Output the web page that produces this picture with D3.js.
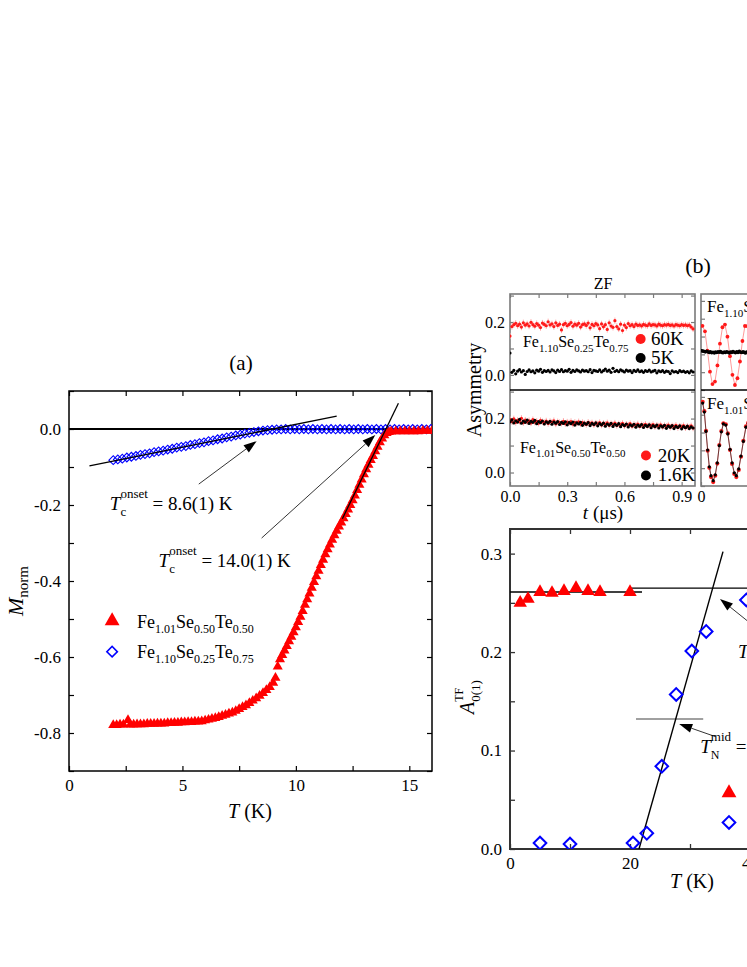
<!DOCTYPE html>
<html><head><meta charset="utf-8">
<script src="https://cdn.jsdelivr.net/npm/d3@7"></script>
<style>
body{margin:0;background:#fff}
svg{display:block}
text{white-space:pre}
</style>
</head><body>
<svg id="c" width="747" height="967"></svg>
<script>
const FONT='"Liberation Serif","Times New Roman",Times,serif';

// ---------------- Panel (a) data ----------------
// Fe1.01Se0.50Te0.50 : [T (K), M_norm]
const aFeSe50=[[1.95,-0.779],[2.10,-0.779],[2.25,-0.778],[2.40,-0.778],[2.60,-0.766],[2.70,-0.778],[2.85,-0.778],[3.00,-0.777],[3.15,-0.777],[3.30,-0.777],
[3.45,-0.776],[3.60,-0.776],[3.75,-0.776],[3.90,-0.775],[4.05,-0.775],[4.20,-0.775],[4.35,-0.774],[4.50,-0.774],[4.65,-0.773],[4.80,-0.773],
[4.95,-0.772],[5.10,-0.772],[5.25,-0.771],[5.40,-0.771],[5.55,-0.770],[5.70,-0.770],[5.85,-0.769],[6.00,-0.767],[6.15,-0.765],[6.30,-0.763],
[6.45,-0.761],[6.60,-0.758],[6.75,-0.755],[6.90,-0.752],[7.05,-0.749],[7.20,-0.746],[7.35,-0.742],[7.50,-0.737],[7.65,-0.732],[7.80,-0.727],
[7.95,-0.721],[8.10,-0.715],[8.25,-0.709],[8.40,-0.702],[8.55,-0.695],[8.70,-0.687],[8.85,-0.679],[9.00,-0.668],[9.10,-0.655],[9.20,-0.625],
[9.30,-0.606],[9.40,-0.595],[9.50,-0.583],[9.60,-0.571],[9.70,-0.559],[9.80,-0.547],[9.90,-0.535],[10.0,-0.522],[10.1,-0.508],[10.2,-0.494],
[10.3,-0.479],[10.4,-0.463],[10.5,-0.448],[10.6,-0.433],[10.7,-0.418],[10.8,-0.403],[10.9,-0.388],[11.0,-0.373],[11.1,-0.358],[11.2,-0.344],
[11.3,-0.330],[11.4,-0.317],[11.5,-0.304],[11.6,-0.292],[11.7,-0.280],[11.8,-0.268],[11.9,-0.257],[12.0,-0.246],[12.1,-0.235],[12.2,-0.224],
[12.3,-0.212],[12.4,-0.200],[12.5,-0.188],[12.6,-0.175],[12.7,-0.161],[12.8,-0.147],[12.9,-0.133],[13.0,-0.119],[13.1,-0.106],[13.2,-0.094],
[13.3,-0.082],[13.4,-0.071],[13.5,-0.059],[13.6,-0.047],[13.7,-0.035],[13.8,-0.025],[13.9,-0.017],[14.0,-0.011],[14.1,-0.008],[14.2,-0.007],
[14.4,-0.006],[14.6,-0.006],[14.8,-0.006],[15.0,-0.006],[15.2,-0.006],[15.4,-0.006],[15.6,-0.005],[15.8,-0.005],[16.0,-0.005]];
// Fe1.10Se0.25Te0.75 : [T (K), M_norm]
const aFeSe25=[[1.95,-0.082],[2.15,-0.080],[2.35,-0.078],[2.55,-0.075],[2.75,-0.073],[2.95,-0.071],[3.15,-0.068],[3.35,-0.066],[3.55,-0.064],[3.75,-0.061],
[3.95,-0.059],[4.15,-0.057],[4.35,-0.054],[4.55,-0.052],[4.75,-0.049],[4.95,-0.047],[5.15,-0.045],[5.35,-0.042],[5.55,-0.040],[5.75,-0.037],
[5.95,-0.035],[6.15,-0.032],[6.35,-0.030],[6.55,-0.027],[6.75,-0.025],[6.95,-0.022],[7.15,-0.020],[7.35,-0.017],[7.55,-0.015],[7.75,-0.012],
[7.95,-0.010],[8.15,-0.008],[8.35,-0.006],[8.55,-0.004],[8.75,-0.003],[8.95,-0.002],[9.15,-0.001],[9.35,-0.001],[9.55,0.000],[9.75,-0.001],
[9.95,0.000],[10.15,-0.001],[10.35,0.000],[10.55,-0.001],[10.75,0.000],[10.95,-0.001],[11.15,0.000],[11.35,-0.001],[11.55,0.000],[11.75,-0.001],
[11.95,0.000],[12.15,-0.001],[12.35,0.000],[12.55,-0.001],[12.75,0.000],[12.95,-0.001],[13.15,0.000],[13.35,-0.001],[13.55,0.000],[13.75,-0.001],
[13.95,0.000],[14.15,-0.001],[14.35,0.000],[14.55,-0.001],[14.75,0.000],[14.95,-0.001],[15.15,0.000],[15.35,-0.001],[15.55,0.000],[15.75,-0.001],[15.95,0.000]];
const aTickX=[0,2.5,5,7.5,10,12.5,15];
const aLabelX=[0,5,10,15];
const aTickY=[-0.9,-0.8,-0.7,-0.6,-0.5,-0.4,-0.3,-0.2,-0.1,0.0,0.1];
const aLabelY=[-0.8,-0.6,-0.4,-0.2,0.0];
// linear fits (endpoints, data units)
const aFitBlue=[[0.9,-0.097],[11.8,0.034]];
const aFitRed=[[12.05,-0.236],[14.52,0.068]];

// ---------------- Panel (b) ZF data ----------------
const zfTime=[0,0.01,0.02,0.03,0.04,0.05,0.06,0.07,0.08,0.09,
0.10,0.11,0.12,0.13,0.14,0.15,0.16,0.17,0.18,0.19,
0.20,0.21,0.22,0.23,0.24,0.25,0.26,0.27,0.28,0.29,
0.30,0.31,0.32,0.33,0.34,0.35,0.36,0.37,0.38,0.39,
0.40,0.41,0.42,0.43,0.44,0.45,0.46,0.47,0.48,0.49,
0.50,0.51,0.52,0.53,0.54,0.55,0.56,0.57,0.58,0.59,
0.60,0.61,0.62,0.63,0.64,0.65,0.66,0.67,0.68,0.69,
0.70,0.71,0.72,0.73,0.74,0.75,0.76,0.77,0.78,0.79,
0.80,0.81,0.82,0.83,0.84,0.85,0.86,0.87,0.88,0.89,
0.90,0.91,0.92,0.93,0.94,0.95,0.96];
const zf60K=[0.147,0.183,0.190,0.195,0.186,0.192,0.181,0.197,0.188,0.193,
0.185,0.199,0.190,0.184,0.194,0.188,0.179,0.196,0.191,0.186,
0.201,0.189,0.193,0.183,0.197,0.187,0.192,0.170,0.190,0.195,
0.186,0.191,0.198,0.184,0.192,0.188,0.195,0.181,0.190,0.193,
0.187,0.196,0.178,0.191,0.186,0.194,0.189,0.175,0.193,0.182,
0.190,0.172,0.197,0.185,0.180,0.205,0.183,0.174,0.192,0.168,
0.188,0.179,0.194,0.186,0.190,0.183,0.192,0.187,0.189,0.185,
0.191,0.188,0.186,0.193,0.187,0.190,0.189,0.185,0.192,0.188,
0.186,0.190,0.188,0.191,0.187,0.189,0.185,0.190,0.188,0.186,
0.190,0.187,0.189,0.186,0.188,0.181,0.174];
const zf5K=[0.083,0.010,0.017,0.004,0.014,0.020,0.011,0.016,0.002,0.013,
0.019,0.012,0.015,0.008,0.018,0.014,0.021,0.010,0.016,0.013,
0.017,0.011,0.019,0.015,0.009,0.018,0.013,0.020,0.012,0.016,
0.014,0.021,0.010,0.017,0.013,0.019,0.015,0.011,0.018,0.014,
0.016,0.012,0.020,0.009,0.017,0.015,0.013,0.019,0.011,0.016,
0.022,0.014,0.018,0.010,0.025,0.013,0.017,0.012,0.019,0.015,
0.011,0.018,0.014,0.016,0.009,0.017,0.013,0.019,0.012,0.015,
0.010,0.016,0.013,0.018,0.011,0.014,0.017,0.008,0.015,0.012,
0.016,0.010,0.014,0.013,0.005,0.015,0.011,0.013,0.009,0.016,
0.012,0.014,0.010,0.013,0.008,0.015,0.011];
const zf20K=[0.196,0.189,0.199,0.186,0.193,0.190,0.201,0.185,0.194,0.188,
0.192,0.184,0.196,0.187,0.190,0.183,0.193,0.188,0.185,0.191,
0.182,0.189,0.186,0.192,0.180,0.188,0.185,0.183,0.190,0.181,
0.187,0.184,0.189,0.179,0.186,0.183,0.188,0.180,0.185,0.182,
0.178,0.186,0.181,0.184,0.177,0.183,0.180,0.185,0.176,0.182,
0.179,0.184,0.175,0.181,0.178,0.183,0.174,0.180,0.177,0.182,
0.173,0.179,0.176,0.181,0.172,0.178,0.175,0.180,0.171,0.177,
0.174,0.179,0.172,0.176,0.173,0.178,0.170,0.175,0.172,0.177,
0.169,0.174,0.171,0.176,0.168,0.173,0.170,0.175,0.167,0.172,
0.169,0.174,0.166,0.171,0.168,0.173,0.165];
const zf1p6K=[0.188,0.195,0.184,0.192,0.187,0.197,0.183,0.191,0.186,0.194,
0.182,0.190,0.186,0.193,0.181,0.189,0.185,0.191,0.180,0.188,
0.184,0.190,0.179,0.187,0.183,0.189,0.178,0.186,0.182,0.188,
0.177,0.185,0.181,0.187,0.176,0.184,0.180,0.186,0.175,0.183,
0.179,0.185,0.174,0.182,0.178,0.184,0.173,0.181,0.177,0.183,
0.172,0.180,0.176,0.182,0.171,0.179,0.175,0.181,0.170,0.178,
0.174,0.180,0.169,0.177,0.173,0.179,0.168,0.176,0.172,0.178,
0.167,0.175,0.171,0.177,0.166,0.174,0.170,0.176,0.165,0.173,
0.169,0.175,0.164,0.172,0.168,0.174,0.163,0.171,0.167,0.173,
0.162,0.170,0.166,0.172,0.163,0.169,0.165];
const zfErr=0.012;
const zfTickX=[0,0.15,0.3,0.45,0.6,0.75,0.9];
const zfLabelX=[0,0.3,0.6,0.9];
const zfTickY=[0.0,0.1,0.2,0.3];
const zfLabelY=[0.0,0.2];

// ---------------- Panel (b) TF spectra (partly visible) ----------------
const tf60K=[[0.008,0.160],[0.0215,0.129],[0.035,0.021],[0.0485,-0.097],[0.062,-0.167],[0.0755,-0.153],[0.089,-0.062],[0.1025,0.060],
[0.116,0.152],[0.1295,0.167],[0.143,0.099],[0.1565,-0.010],[0.170,-0.115],[0.1835,-0.172],[0.197,-0.134],[0.2105,-0.040],
[0.224,0.075],[0.2375,0.159],[0.251,0.158],[0.2645,0.072]];
const tf5K=[[0.004,0.020],[0.011,0.018],[0.018,0.016],[0.024,0.014],[0.031,0.017],[0.038,0.013],[0.045,0.011],[0.051,0.015],[0.058,0.009],[0.065,0.012],
[0.072,0.008],[0.078,0.013],[0.085,0.010],[0.092,0.014],[0.099,0.012],[0.105,0.016],[0.112,0.011],[0.119,0.009],[0.126,0.013],[0.132,0.010],
[0.139,0.015],[0.146,0.012],[0.153,0.008],[0.159,0.013],[0.166,0.011],[0.173,0.016],[0.180,0.012],[0.186,0.009],[0.193,0.014],[0.200,0.011],
[0.207,0.017],[0.213,0.012],[0.220,0.010],[0.227,0.014],[0.234,0.011],[0.240,0.008],[0.247,0.013],[0.254,0.010]];
const tf20K=[[0.009,0.272],[0.018,0.220],[0.027,0.110],[0.036,-0.002],[0.045,-0.098],[0.054,-0.150],[0.066,-0.178],[0.077,-0.142],
[0.088,-0.074],[0.099,0.030],[0.110,0.108],[0.121,0.152],[0.134,0.146],[0.145,0.096],[0.157,0.002],[0.168,-0.076],
[0.180,-0.132],[0.191,-0.150],[0.204,-0.110],[0.216,-0.036],[0.229,0.054],[0.243,0.134],[0.255,0.154]];
const tf1p6K=[[0.009,0.265],[0.018,0.215],[0.027,0.106],[0.036,0.002],[0.045,-0.092],[0.054,-0.142],[0.066,-0.170],[0.077,-0.137],
[0.088,-0.070],[0.099,0.026],[0.110,0.104],[0.121,0.148],[0.134,0.142],[0.145,0.092],[0.157,0.006],[0.168,-0.070],
[0.180,-0.126],[0.191,-0.142],[0.204,-0.104],[0.216,-0.032],[0.229,0.050],[0.243,0.130],[0.255,0.150]];
const tfTickY=[-0.2,-0.1,0.0,0.1,0.2,0.3];

// ---------------- Panel (b) A0(1)^TF vs T ----------------
const bFeSe50=[[1.7,0.250],[3.0,0.254],[5.0,0.261],[7.0,0.260],[9.0,0.262],[11.0,0.265],[13.0,0.262],[15.0,0.261],[20.0,0.261]];
const bFeSe25=[[5.0,0.006],[10.0,0.005],[20.5,0.006],[22.8,0.016],[25.3,0.084],[27.7,0.157],[30.3,0.201],[32.7,0.221],[39.4,0.253]];
const bTickX=[0,10,20,30,40,50,60];
const bLabelX=[0,20,40,60];
const bTickY=[0,0.05,0.1,0.15,0.2,0.25,0.3];
const bLabelY=[0.0,0.1,0.2,0.3];
const bFit=[[21.5,0.0],[35.5,0.302]];
const bPlateau1=[[0,0.261],[22,0.261]];
const bPlateau2=[[20,0.265],[70,0.265]];
const bMid=[[21,0.132],[32.2,0.132]];

// ================= drawing =================
const svg=d3.select('#c');
const defs=svg.append('defs');
let clipId=0;
function clip(x0,y0,x1,y1){const id='cl'+(clipId++);defs.append('clipPath').attr('id',id).append('rect').attr('x',x0).attr('y',y0).attr('width',x1-x0).attr('height',y1-y0);return 'url(#'+id+')';}
const near=(a,b)=>Math.abs(a-b)<1e-9;

function axis(g,scale,orient,pos,values,labels,len,fs,pad,fmt,color,sw){
  const gen={bottom:d3.axisBottom,top:d3.axisTop,left:d3.axisLeft,right:d3.axisRight}[orient](scale);
  gen.tickValues(values).tickSizeInner(-len).tickSizeOuter(0).tickPadding(pad)
     .tickFormat(d=>labels&&labels.some(v=>near(v,d))?fmt(d):'');
  const horiz=orient==='bottom'||orient==='top';
  const a=g.append('g').attr('transform',horiz?`translate(0,${pos})`:`translate(${pos},0)`).call(gen);
  a.attr('font-family',null).attr('font-size',null);
  a.select('.domain').remove();
  a.selectAll('line').attr('stroke',color).attr('stroke-width',sw);
  a.selectAll('text').attr('fill','#000').style('font-family',FONT).style('font-size',fs+'px');
  return a;
}
function rich(parent,x,y,pieces,anchor,rot){
  const g=parent.append('g').attr('transform',`translate(${x},${y}) rotate(${rot||0})`);
  let cur=0,prevStart=0;const ts=[];
  pieces.forEach(p=>{
    const start=p.stack?prevStart:cur;
    const t=g.append('text').attr('x',start).attr('y',p.dy||0).text(p.t)
      .attr('fill',p.c||'#000').style('font-family',FONT).style('font-size',p.s+'px')
      .style('font-style',p.i?'italic':'normal');
    const w=t.node().getComputedTextLength();
    if(!p.stack)prevStart=start;
    cur=Math.max(cur,start+w);ts.push(t);
  });
  if(anchor==='middle')ts.forEach(t=>t.attr('x',+t.attr('x')-cur/2));
  return g;
}
function formula(parent,x,y,parts,s,ss,anchor,rot){
  const pieces=[];
  for(let i=0;i<parts.length;i+=2){pieces.push({t:parts[i],s:s});pieces.push({t:parts[i+1],s:ss,dy:s*0.3});}
  return rich(parent,x,y,pieces,anchor,rot);
}
function arrow(g,x1,y1,x2,y2,len,half,sw){
  const dx=x2-x1,dy=y2-y1,L=Math.hypot(dx,dy),ux=dx/L,uy=dy/L;
  const bx=x2-ux*len,by=y2-uy*len;
  g.append('line').attr('x1',x1).attr('y1',y1).attr('x2',bx).attr('y2',by).attr('stroke','#000').attr('stroke-width',sw);
  g.append('path').attr('d',`M${x2},${y2}L${bx-uy*half},${by+ux*half}L${bx+uy*half},${by-ux*half}Z`).attr('fill','#000');
}
const tri=d3.symbol().type(d3.symbolTriangle);
const sq=d3.symbol().type(d3.symbolSquare);

// ---------- Panel (a) ----------
{
  const x=d3.scaleLinear().domain([0,16]).range([69,432]);
  const y=d3.scaleLinear().domain([-0.9,0.1]).range([771,391]);
  const g=svg.append('g');
  const fmt=d=>(+d).toFixed(1).replace('-0.0','0.0');
  axis(g,x,'bottom',771,aTickX,aLabelX,5,17,8,d=>String(d),'#000',1.2);
  axis(g,x,'top',391,aTickX,null,5,17,8,d=>'','#000',1.2);
  axis(g,y,'left',69,aTickY,aLabelY,5,17,8,fmt,'#000',1.2);
  axis(g,y,'right',432,aTickY,null,5,17,8,d=>'','#000',1.2);
  g.append('rect').attr('x',69).attr('y',391).attr('width',363).attr('height',380).attr('fill','none').attr('stroke','#000').attr('stroke-width',1.5);
  const cp=g.append('g').attr('clip-path',clip(69,391,432,771));
  cp.append('line').attr('x1',x(0)).attr('x2',x(16)).attr('y1',y(0)).attr('y2',y(0)).attr('stroke','#000').attr('stroke-width',2);
  cp.selectAll('.bd').data(aFeSe25).join('path').attr('d',sq.size(38)())
    .attr('transform',d=>`translate(${x(d[0])},${y(d[1])}) rotate(45)`)
    .attr('fill','none').attr('stroke','#0000ff').attr('stroke-width',1.1);
  cp.selectAll('.rt').data(aFeSe50).join('path').attr('d',tri.size(44)())
    .attr('transform',d=>`translate(${x(d[0])},${y(d[1])})`).attr('fill','#ff0000');
  [aFitBlue,aFitRed].forEach(f=>cp.append('line').attr('x1',x(f[0][0])).attr('y1',y(f[0][1])).attr('x2',x(f[1][0])).attr('y2',y(f[1][1])).attr('stroke','#000').attr('stroke-width',1.3));
  arrow(g,x(5.72),y(-0.145),x(8.27),y(-0.032),13,4.5,0.8);
  arrow(g,x(8.49),y(-0.287),x(13.5),y(-0.016),13,4.5,0.8);
  rich(g,x(1.8),y(-0.214),[{t:'T',s:19,i:true},{t:'onset',s:13,dy:-12},{t:'c',s:13,dy:6,stack:true},{t:' = 8.6(1) K',s:19}]);
  rich(g,x(3.95),y(-0.364),[{t:'T',s:19,i:true},{t:'onset',s:13,dy:-12},{t:'c',s:13,dy:6,stack:true},{t:' = 14.0(1) K',s:19}]);
  // legend
  g.append('path').attr('d',tri.size(95)()).attr('transform',`translate(${x(1.9)},${y(-0.505)})`).attr('fill','#ff0000');
  formula(g,x(3.0),y(-0.523),['Fe','1.01','Se','0.50','Te','0.50'],18,12);
  g.append('path').attr('d',sq.size(55)()).attr('transform',`translate(${x(1.9)},${y(-0.586)}) rotate(45)`).attr('fill','none').attr('stroke','#0000ff').attr('stroke-width',1.6);
  formula(g,x(3.0),y(-0.602),['Fe','1.10','Se','0.25','Te','0.75'],18,12);
  // labels
  rich(g,250,818,[{t:'T',s:20,i:true},{t:' (K)',s:20}],'middle');
  rich(g,23,591,[{t:'M',s:22,i:true},{t:'norm',s:15,dy:5}],'middle',-90);
  g.append('text').attr('x',241).attr('y',370).attr('text-anchor','middle').text('(a)').style('font-family',FONT).style('font-size','21px');
}

// ---------- Panel (b) ZF / TF spectra ----------
{
  const g=svg.append('g');
  const x=d3.scaleLinear().domain([0,0.97]).range([510,695]);
  const yU=d3.scaleLinear().domain([-0.057,0.306]).range([390,294]);
  const yL=d3.scaleLinear().domain([-0.05,0.306]).range([486,390]);
  const fmt=d=>(+d).toFixed(1);
  const gray='#7a7a7a';
  axis(g,x,'bottom',486,zfTickX,zfLabelX,4,16,5,fmt,gray,1.2);
  axis(g,x,'top',294,zfTickX,null,4,16,5,d=>'',gray,1.2);
  axis(g,yU,'left',510,zfTickY,zfLabelY,4,16,5,fmt,gray,1.2);
  axis(g,yL,'left',510,zfTickY,zfLabelY,4,16,5,fmt,gray,1.2);
  axis(g,yU,'right',695,zfTickY,null,4,16,5,d=>'',gray,1.2);
  axis(g,yL,'right',695,zfTickY,null,4,16,5,d=>'',gray,1.2);
  g.append('rect').attr('x',510).attr('y',294).attr('width',185).attr('height',192).attr('fill','none').attr('stroke',gray).attr('stroke-width',1.6);
  g.append('line').attr('x1',510).attr('x2',695).attr('y1',390).attr('y2',390).attr('stroke','#000').attr('stroke-width',1.5);
  const cu=g.append('g').attr('clip-path',clip(510,294,695,390));
  const cl=g.append('g').attr('clip-path',clip(510,390,695,486));
  const pts=(arr)=>arr.slice(0,zfTime.length).map((v,i)=>[zfTime[i],v]);
  function dots(c,yS,data,col,r,err){
    if(err)c.selectAll(null).data(data).join('line').attr('x1',d=>x(d[0])).attr('x2',d=>x(d[0])).attr('y1',d=>yS(d[1]-zfErr)).attr('y2',d=>yS(d[1]+zfErr)).attr('stroke',err).attr('stroke-width',1);
    c.selectAll(null).data(data).join('circle').attr('cx',d=>x(d[0])).attr('cy',d=>yS(d[1])).attr('r',r).attr('fill',col);
  }
  dots(cu,yU,pts(zf60K),'#ff1a1a',1.6,'#ffb0b0');
  dots(cu,yU,pts(zf5K),'#000',1.6,null);
  dots(cl,yL,pts(zf20K),'#ff1a1a',1.6,'#ffb0b0');
  dots(cl,yL,pts(zf1p6K),'#000',1.6,null);
  // legends
  g.append('circle').attr('cx',x(0.685)).attr('cy',yU(0.136)).attr('r',5).attr('fill','#ff1a1a');
  g.append('circle').attr('cx',x(0.685)).attr('cy',yU(0.064)).attr('r',5).attr('fill','#000');
  g.append('text').attr('x',x(0.739)).attr('y',yU(0.136)+6).text('60K').style('font-family',FONT).style('font-size','19px');
  g.append('text').attr('x',x(0.739)).attr('y',yU(0.064)+6).text('5K').style('font-family',FONT).style('font-size','19px');
  g.append('circle').attr('cx',x(0.713)).attr('cy',yL(0.063)).attr('r',5).attr('fill','#ff1a1a');
  g.append('circle').attr('cx',x(0.713)).attr('cy',yL(-0.011)).attr('r',5).attr('fill','#000');
  g.append('text').attr('x',x(0.775)).attr('y',yL(0.063)+6).text('20K').style('font-family',FONT).style('font-size','19px');
  g.append('text').attr('x',x(0.775)).attr('y',yL(-0.011)+6).text('1.6K').style('font-family',FONT).style('font-size','19px');
  formula(g,x(0.068),yU(0.106),['Fe','1.10','Se','0.25','Te','0.75'],16,11);
  formula(g,x(0.052),yL(0.074),['Fe','1.01','Se','0.50','Te','0.50'],16,11);
  g.append('text').attr('x',603).attr('y',289).attr('text-anchor','middle').text('ZF').style('font-family',FONT).style('font-size','16px');
  rich(g,603,519,[{t:'t',s:19,i:true},{t:' (μs)',s:19}],'middle');
  rich(g,481,390,[{t:'Asymmetry',s:20}],'middle',-90);
  g.append('text').attr('x',698).attr('y',273).attr('text-anchor','middle').text('(b)').style('font-family',FONT).style('font-size','22px');

  // TF spectra panel (extends beyond the page edge)
  const xt=d3.scaleLinear().domain([0,1]).range([701,886]);
  const tU=d3.scaleLinear().domain([-0.2,0.333]).range([390,295]);
  const tL=d3.scaleLinear().domain([-0.2,0.333]).range([486,391]);
  axis(g,xt,'bottom',486,[0,0.5],[0],4,16,5,d=>String(d),gray,1.2);
  axis(g,tU,'left',701,tfTickY,null,4,16,5,d=>'',gray,1.2);
  axis(g,tL,'left',701,tfTickY,null,4,16,5,d=>'',gray,1.2);
  g.append('rect').attr('x',701).attr('y',294).attr('width',185).attr('height',192).attr('fill','none').attr('stroke',gray).attr('stroke-width',1.6);
  g.append('line').attr('x1',701).attr('x2',886).attr('y1',390).attr('y2',390).attr('stroke','#000').attr('stroke-width',1.5);
  const tu=g.append('g').attr('clip-path',clip(701,294,886,390));
  const tl=g.append('g').attr('clip-path',clip(701,390,886,486));
  const lineU=d3.line().x(d=>xt(d[0])).y(d=>tU(d[1]));
  const lineL=d3.line().x(d=>xt(d[0])).y(d=>tL(d[1]));
  tu.append('path').attr('d',lineU(tf60K)).attr('fill','none').attr('stroke','#ff9a9a').attr('stroke-width',1);
  tu.selectAll(null).data(tf60K).join('circle').attr('cx',d=>xt(d[0])).attr('cy',d=>tU(d[1])).attr('r',1.9).attr('fill','#ff1a1a');
  tu.selectAll(null).data(tf5K).join('circle').attr('cx',d=>xt(d[0])).attr('cy',d=>tU(d[1])).attr('r',1.8).attr('fill','#000');
  tl.append('path').attr('d',lineL(tf20K)).attr('fill','none').attr('stroke','#ff9a9a').attr('stroke-width',1);
  tl.selectAll(null).data(tf20K).join('circle').attr('cx',d=>xt(d[0])).attr('cy',d=>tL(d[1])).attr('r',2.1).attr('fill','#ff1a1a');
  tl.append('path').attr('d',lineL(tf1p6K)).attr('fill','none').attr('stroke','#5a2a2a').attr('stroke-width',0.9);
  tl.selectAll(null).data(tf1p6K).join('circle').attr('cx',d=>xt(d[0])).attr('cy',d=>tL(d[1])).attr('r',1.6).attr('fill','#000');
  const tfl=g.append('g').attr('clip-path',clip(701,294,747,486));
  formula(tfl,707,312,['Fe','1.10','Se','0.25','Te','0.75'],17,11);
  formula(tfl,707,409,['Fe','1.01','Se','0.50','Te','0.50'],17,11);
}

// ---------- Panel (b) A0(1)^TF vs T ----------
{
  const g=svg.append('g');
  const x=d3.scaleLinear().domain([0,70]).range([510,930]);
  const y=d3.scaleLinear().domain([0,0.325]).range([849,529]);
  const fmt=d=>(+d).toFixed(1);
  const dark='#333';
  axis(g,x,'bottom',849,bTickX,bLabelX,5,17,8,d=>String(d),dark,1.3);
  axis(g,x,'top',529,bTickX,null,5,17,8,d=>'',dark,1.3);
  axis(g,y,'left',510,bTickY,bLabelY,5,17,8,fmt,dark,1.3);
  g.append('rect').attr('x',510).attr('y',529).attr('width',420).attr('height',320).attr('fill','none').attr('stroke',dark).attr('stroke-width',2);
  const c=g.append('g').attr('clip-path',clip(510,529,930,849));
  const seg=(s,col,w)=>c.append('line').attr('x1',x(s[0][0])).attr('y1',y(s[0][1])).attr('x2',x(s[1][0])).attr('y2',y(s[1][1])).attr('stroke',col).attr('stroke-width',w);
  seg(bPlateau1,'#000',1.3);seg(bPlateau2,'#000',1.3);seg(bMid,'#808080',1.6);seg(bFit,'#000',1.4);
  c.selectAll(null).data(bFeSe50).join('path').attr('d',tri.size(78)()).attr('transform',d=>`translate(${x(d[0])},${y(d[1])})`).attr('fill','#ff0000');
  c.selectAll(null).data(bFeSe25).join('path').attr('d',sq.size(80)()).attr('transform',d=>`translate(${x(d[0])},${y(d[1])}) rotate(45)`).attr('fill','none').attr('stroke','#0000ff').attr('stroke-width',2);
  arrow(g,x(34.3),y(0.114),x(28.2),y(0.127),13,4.5,0.8);
  arrow(g,x(39.5),y(0.232),x(35.0),y(0.254),13,4.5,0.8);
  rich(g,x(31.7),y(0.0975),[{t:'T',s:19,i:true},{t:'mid',s:13,dy:-12},{t:'N',s:12,dy:6,stack:true},{t:' =',s:19}]);
  rich(g,x(38.0),y(0.194),[{t:'T',s:19,i:true}]);
  g.append('path').attr('d',tri.size(95)()).attr('transform',`translate(${x(36.5)},${y(0.057)})`).attr('fill','#ff0000');
  g.append('path').attr('d',sq.size(80)()).attr('transform',`translate(${x(36.5)},${y(0.027)}) rotate(45)`).attr('fill','none').attr('stroke','#0000ff').attr('stroke-width',2);
  rich(g,692,888,[{t:'T',s:20,i:true},{t:' (K)',s:20}],'middle');
  rich(g,474,697,[{t:'A',s:20,i:true},{t:'TF',s:12,dy:-11},{t:'0(1)',s:13,dy:6,stack:true}],'middle',-90);
}
</script>
</body></html>
